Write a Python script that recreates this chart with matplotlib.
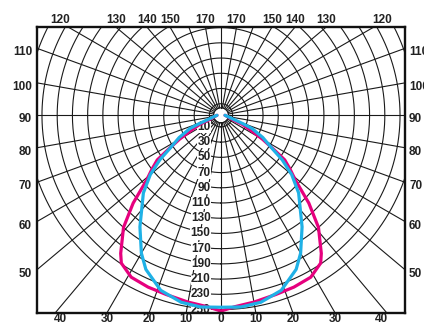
import numpy as np
import matplotlib
matplotlib.use('Agg')
import matplotlib.pyplot as plt

# Lichtstärke (cd) je Winkel ab Nadir, Kurven sind symmetrisch
angles_cyan = [0, 6, 12, 19, 26, 30, 36, 45, 50, 54, 57, 62, 67, 69, 72, 78, 90]
values_cyan = [247, 248, 246, 238, 220, 204, 176, 139, 116, 94, 75, 57, 39, 26, 13, 5, 0]

angles_magenta = [0, 4, 10, 17, 23, 29, 34, 36, 41, 45, 49, 52, 55, 57, 60, 63, 67, 69, 80, 90]
values_magenta = [252, 247, 244, 241, 240, 238, 229, 219, 190, 158, 124, 110, 97, 78, 58, 40, 25, 12, 3, 0]

ring_values = list(range(10, 251, 20))
side_angles = [50, 60, 70, 80, 90, 100, 110]
top_angles = [120, 130, 140, 150, 170]
bottom_angles = [40, 30, 20, 10, 0, 10, 20, 30, 40]

# Geometrie
k = 0.761            # Pixel pro cd
r0 = 4 / k           # Versatz des Nullpunkts (Loch in der Mitte)
r_hole = 7.5 / k
xmax = 184 / k
ymin = -197.7 / k
ymax = 88.3 / k

fig = plt.figure(figsize=(4.24, 3.25), dpi=100)
ax = fig.add_axes([37 / 424, 1 - 313 / 325, 368 / 424, 286 / 325])
ax.set_xlim(-xmax, xmax)
ax.set_ylim(ymin, ymax)
ax.set_xticks([])
ax.set_yticks([])
for s in ax.spines.values():
    s.set_linewidth(1.7)
    s.set_color('#111111')
    s.set_zorder(10)

grid_kw = dict(color='#1a1a1a', lw=0.8, zorder=1)

# Kreise
t = np.linspace(0, 2 * np.pi, 400)
for rv in ring_values:
    rr = rv + r0
    ax.plot(rr * np.sin(t), -rr * np.cos(t), **grid_kw)
ax.plot(r_hole * np.sin(t), -r_hole * np.cos(t), **grid_kw)

# Strahlen alle 10 Grad
for a in range(0, 360, 10):
    ar = np.radians(a)
    ax.plot([r_hole * np.sin(ar), 400 * np.sin(ar)],
            [-r_hole * np.cos(ar), -400 * np.cos(ar)], **grid_kw)

# Kurven (gespiegelt)
def curve(angles, values):
    a = np.radians(np.array(angles, dtype=float))
    r = np.array(values, dtype=float) + r0
    a_full = np.concatenate([-a[::-1], a[1:]])
    r_full = np.concatenate([r[::-1], r[1:]])
    return r_full * np.sin(a_full), -r_full * np.cos(a_full)

x, y = curve(angles_magenta, values_magenta)
ax.plot(x, y, color='#e6007e', lw=2.3, zorder=5, solid_capstyle='round')
x, y = curve(angles_cyan, values_cyan)
ax.plot(x, y, color='#1fb1e6', lw=2.3, zorder=6, solid_capstyle='round')

font = dict(family=['Liberation Sans', 'DejaVu Sans'], weight='bold', size=8.5, color='#222222')

# Werte an der Senkrechten
for rv in ring_values:
    ax.text(-10.5 / k, -(rv + r0), str(rv), ha='right', va='center', zorder=3,
            bbox=dict(facecolor='white', edgecolor='none', pad=0.2), **font)

# Winkelbeschriftung links / rechts
for a in side_angles:
    ar = np.radians(a)
    tt = xmax / np.sin(ar)
    yy = -tt * np.cos(ar) - 4 / k
    ax.text(-xmax - 5 / k, yy, str(a), ha='right', va='center', clip_on=False, **font)
    ax.text(xmax + 4 / k, yy, str(a), ha='left', va='center', clip_on=False, **font)

# oben
for a in top_angles:
    ar = np.radians(a)
    tt = -ymax / np.cos(ar)
    xx = tt * np.sin(ar)
    if a == 120:
        xx += 8 / k
    ax.text(-xx, ymax + 7 / k, str(a), ha='center', va='center', clip_on=False, **font)
    ax.text(xx, ymax + 7 / k, str(a), ha='center', va='center', clip_on=False, **font)

# unten
for i, a in enumerate(bottom_angles):
    ar = np.radians(a)
    tt = -ymin / np.cos(ar)
    xx = tt * np.sin(ar)
    if a == 40:
        xx -= 5 / k
    xx = -xx if i < 4 else xx
    ax.text(xx, ymin - 9.5 / k, str(a), ha='center', va='baseline', clip_on=False, **font)

fig.savefig('out.png', dpi=100)
